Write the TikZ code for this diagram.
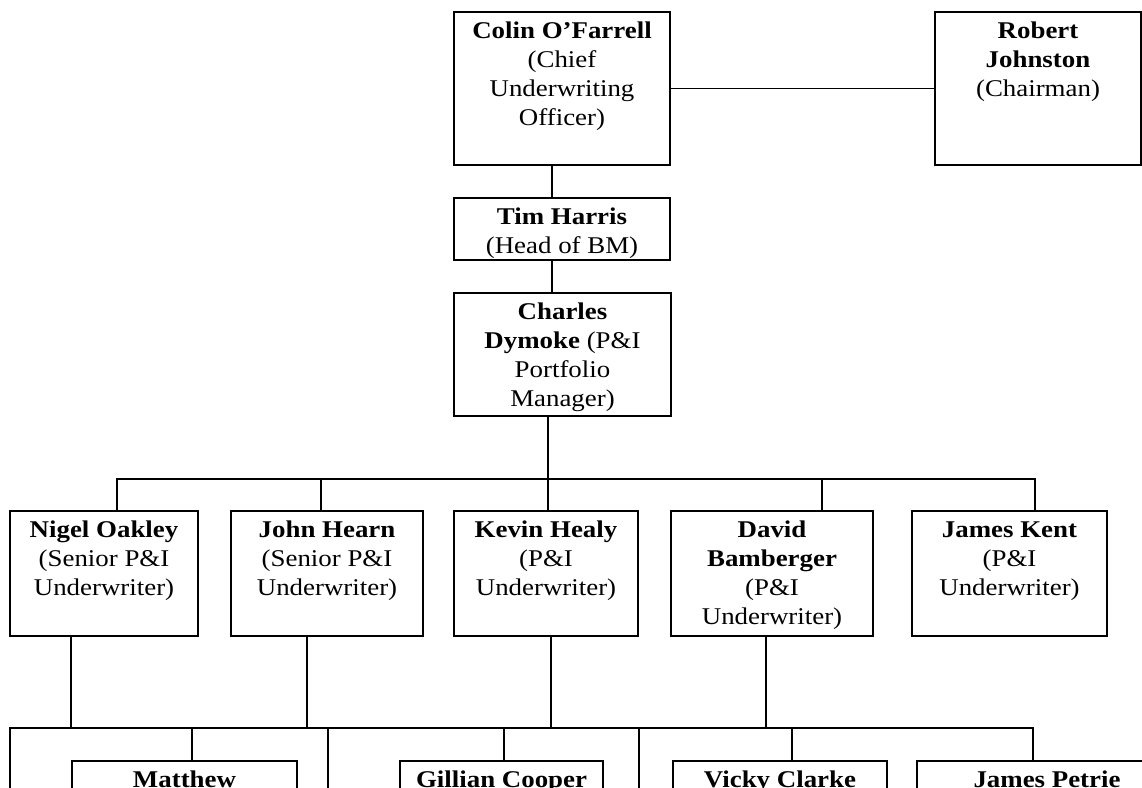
\documentclass[tikz,border=0pt]{standalone}
\usepackage{fontspec}
\setmainfont{Liberation Serif}[FakeStretch=1.12]
% Top-aligned card text: width, height, contents
\newcommand\cardtxt[3]{\parbox[t][#2pt][t]{#1pt}{\centering\rule{0pt}{26pt}#3}}
\begin{document}
\begin{tikzpicture}[x=1pt,y=-1pt,line width=1.8pt,
  every node/.style={font=\fontsize{24}{29}\selectfont},
  card/.style={draw,rectangle,anchor=north west,inner sep=0pt,outer sep=0pt}]
\path[use as bounding box] (0,0) rectangle (1142,787);
\clip (0,0) rectangle (1142,787);

% Management chain
\node[card] (colin)   at (454,12)  {\cardtxt{216}{153}{\textbf{Colin O’Farrell}\\(Chief\\Underwriting\\Officer)}};
\node[card] (robert)  at (935,12)  {\cardtxt{206}{153}{\textbf{Robert}\\\textbf{Johnston}\\(Chairman)}};
\node[card] (tim)     at (454,198) {\cardtxt{216}{62}{\textbf{Tim Harris}\\(Head of BM)}};
\node[card] (charles) at (454,293) {\cardtxt{217}{123}{\textbf{Charles}\\\textbf{Dymoke} (P\&I\\Portfolio\\Manager)}};

% Underwriters
\node[card] (nigel) at (10,511)  {\cardtxt{188}{125}{\textbf{Nigel Oakley}\\(Senior P\&I\\Underwriter)}};
\node[card] (john)  at (231,511) {\cardtxt{192}{125}{\textbf{John Hearn}\\(Senior P\&I\\Underwriter)}};
\node[card] (kevin) at (454,511) {\cardtxt{184}{125}{\textbf{Kevin Healy}\\(P\&I\\Underwriter)}};
\node[card] (david) at (671,511) {\cardtxt{202}{125}{\textbf{David}\\\textbf{Bamberger}\\(P\&I\\Underwriter)}};
\node[card] (kent)  at (912,511) {\cardtxt{195}{125}{\textbf{James Kent}\\(P\&I\\Underwriter)}};

% Next row
\node[card] (matthew) at (72,761)  {\cardtxt{225}{100}{\textbf{Matthew}}};
\node[card] (gillian) at (400,761) {\cardtxt{203}{100}{\textbf{Gillian Cooper}}};
\node[card] (vicky)   at (673,761) {\cardtxt{214}{100}{\textbf{Vicky Clarke}}};
\node[card] (petrie)  at (917,761) {\cardtxt{260}{100}{\textbf{James Petrie}}};

% Junction points
\coordinate (spine) at (552,0);
\coordinate (hub)   at (548,479);
\coordinate (tn) at (117,479);
\coordinate (tj) at (321,479);
\coordinate (td) at (822,479);
\coordinate (tk) at (1035,479);
\coordinate (bus) at (0,728);
\coordinate (dn) at (71,0);
\coordinate (dj) at (307,0);
\coordinate (dk) at (551,0);
\coordinate (dd) at (766,0);
\coordinate (la) at (10,728);
\coordinate (lm) at (192,728);
\coordinate (lb) at (328,728);
\coordinate (lg) at (504,728);
\coordinate (lc) at (639,728);
\coordinate (lv) at (792,728);
\coordinate (lp) at (1033,728);
\coordinate (ea) at (10,800);
\coordinate (eb) at (328,800);
\coordinate (ec) at (639,800);

% Connectors
\draw (colin.east) -- (robert.west);
\draw (colin.south -| spine) -- (tim.north -| spine);
\draw (tim.south -| spine) -- (charles.north -| spine);
\draw (charles.south -| hub) -- (hub) -- (kevin.north -| hub);
\draw (nigel.north -| tn) -- (tn) -- (tk) -- (kent.north -| tk);
\draw (tj) -- (john.north -| tj);
\draw (td) -- (david.north -| td);

\draw (nigel.south -| dn) -- (bus -| dn);
\draw (john.south -| dj) -- (bus -| dj);
\draw (kevin.south -| dk) -- (bus -| dk);
\draw (david.south -| dd) -- (bus -| dd);
\draw (ea) -- (la) -- (lp) -- (petrie.north -| lp);
\draw (lm) -- (matthew.north -| lm);
\draw (lg) -- (gillian.north -| lg);
\draw (lv) -- (vicky.north -| lv);
\draw (lb) -- (eb);
\draw (lc) -- (ec);
\end{tikzpicture}
\end{document}
